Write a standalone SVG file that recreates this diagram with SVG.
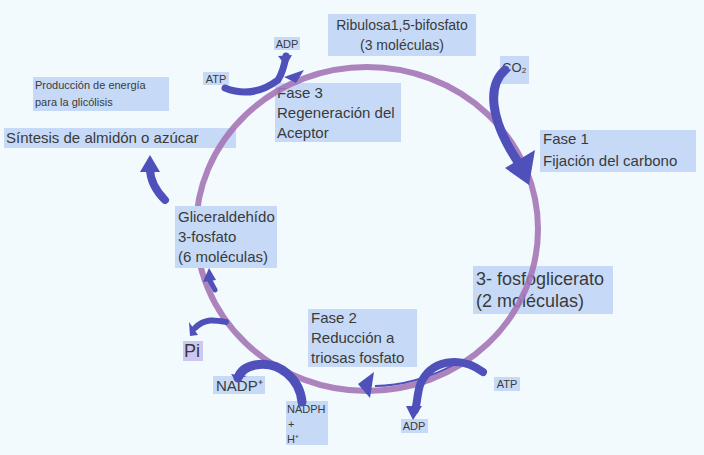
<svg xmlns="http://www.w3.org/2000/svg" width="704" height="455" viewBox="0 0 704 455">
<style>
text{font-family:"Liberation Sans",Arial,sans-serif;fill:#3a3a3a;}
.b{fill:#c6daf7;}
.a{fill:none;stroke:#4f50ba;stroke-linecap:round;}
.h{fill:#4f50ba;}
.m{font-size:15px;}
</style>
<rect width="704" height="455" fill="#f2fafd"/>
<g id="labels">
<g id="ribulosa"><rect class="b" x="328" y="14" width="148" height="42"/><text x="402" y="30" font-size="14" text-anchor="middle">Ribulosa1,5-bifosfato</text><text x="402" y="50" font-size="14" text-anchor="middle">(3 moléculas)</text></g>
<g id="adp-top"><rect class="b" x="274" y="37" width="26" height="13"/><text x="287" y="48" font-size="11" text-anchor="middle">ADP</text></g>
<g id="atp-top"><rect class="b" x="203" y="72" width="26" height="13"/><text x="216" y="83" font-size="11" text-anchor="middle">ATP</text></g>
<g id="co2"><rect class="b" x="500" y="56" width="29" height="28"/><text x="502" y="72" font-size="13">CO₂</text></g>
<g id="fase3"><rect class="b" x="275" y="83" width="126" height="59"/><text x="277" y="98" class="m">Fase 3</text><text x="277" y="118" class="m">Regeneración del</text><text x="277" y="138" class="m">Aceptor</text></g>
<g id="produccion"><rect class="b" x="33" y="77" width="136" height="34"/><text x="35" y="89" font-size="11">Producción de energía</text><text x="35" y="106" font-size="11">para la glicólisis</text></g>
<g id="sintesis"><rect class="b" x="4" y="128" width="232" height="20"/><text x="6" y="143" class="m">Síntesis de almidón o azúcar</text></g>
<g id="fase1"><rect class="b" x="540" y="130" width="156" height="42"/><text x="543" y="144" class="m">Fase 1</text><text x="543" y="166" class="m">Fijación del carbono</text></g>
<g id="fosfoglicerato"><rect class="b" x="473" y="266" width="140" height="48"/><text x="476" y="285" font-size="18">3- fosfoglicerato</text><text x="476" y="307" font-size="18">(2 moléculas)</text></g>
<g id="pi"><rect fill="#cdc7f2" x="183" y="341" width="20" height="20"/><text x="184" y="357" font-size="18">Pi</text></g>
<g id="fase2"><rect class="b" x="308" y="309" width="109" height="58"/><text x="311" y="323" class="m">Fase 2</text><text x="311" y="343" class="m">Reducción a</text><text x="311" y="363" class="m">triosas fosfato</text></g>
<g id="nadp"><rect class="b" x="213" y="376" width="52" height="18"/><text x="216" y="391" class="m">NADP⁺</text></g>
<g id="nadph"><rect class="b" x="286" y="401" width="42" height="44"/><text x="287" y="413" font-size="11">NADPH</text><text x="288" y="428" font-size="11">+</text><text x="287" y="443" font-size="11">H⁺</text></g>
<g id="atp-bot"><rect class="b" x="494" y="377" width="26" height="14"/><text x="507" y="388" font-size="11" text-anchor="middle">ATP</text></g>
<g id="adp-bot"><rect class="b" x="401" y="419" width="27" height="14"/><text x="414" y="430" font-size="11" text-anchor="middle">ADP</text></g>
</g>
<g id="connectors">
<ellipse cx="367" cy="229" rx="171" ry="162" fill="none" stroke="#a576b6" stroke-width="6" opacity="0.9"/>
<path class="a" d="M505 70 C488 85 488 118 520 165" stroke-width="9"/>
<polygon class="h" points="505,168 535,150 529,185"/>
<path class="a" d="M225 88 C245 96 262 92 278 80 C283 72 285 62 286 56" stroke-width="7"/>
<polygon class="h" points="278,56 292,55 286,66"/>
<polygon class="h" points="284,77 304,70 296,83"/>
<path class="a" d="M165 200 C155 190 150 180 150 168" stroke-width="8"/>
<polygon class="h" points="140,172 150,155 160,172"/>
<path class="a" d="M215 290 L208 277" stroke-width="5"/>
<polygon class="h" points="203,282 209,268 216,280"/>
<path class="a" d="M226 322 C215 320 205 318 195 328" stroke-width="6"/>
<polygon class="h" points="189,322 198,335 190,336"/>
<path class="a" d="M302 402 C300 380 280 360 255 365 C245 367 240 372 238 378" stroke-width="9"/>
<polygon class="h" points="231,374 247,376 235,380"/>
<path class="a" d="M483 372 C460 355 430 360 420 385 C417 395 417 405 415 410" stroke-width="8"/>
<polygon class="h" points="406,406 422,406 413,420"/>
<path fill="none" stroke="#4f50ba" stroke-width="2" d="M455 364 C430 378 400 386 375 386"/>
<polygon class="h" points="358,384 374,372 370,398"/>
</g>
<g id="gliceraldehido"><rect class="b" x="175" y="206" width="102" height="62"/><text x="178" y="222" class="m">Gliceraldehído</text><text x="178" y="242" class="m">3-fosfato</text><text x="178" y="262" class="m">(6 moléculas)</text></g>
</svg>
